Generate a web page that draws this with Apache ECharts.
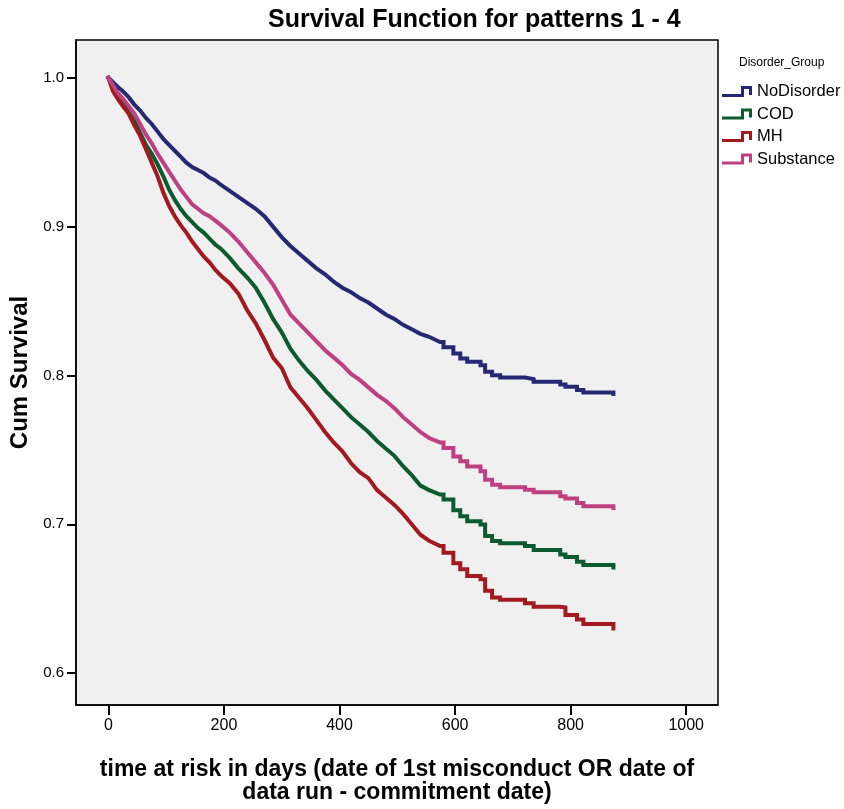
<!DOCTYPE html>
<html>
<head>
    <meta charset="utf-8">
    <title>Survival Function for patterns 1 - 4</title>
    <script src="https://cdn.jsdelivr.net/npm/echarts@6/dist/echarts.min.js"></script>
    <style>
        html, body { margin: 0; padding: 0; background: #ffffff; }
        #chart { width: 844px; height: 809px; }
    </style>
</head>
<body>
<div id="chart"></div>
<script>
    // days at which the curves are read (shared by all groups)
    var days = [0, 8, 16, 25, 35, 45, 55, 65, 75, 85, 95, 105, 115, 125, 135, 145, 155, 165, 175, 185, 195,
        210, 225, 240, 255, 270, 285, 300, 315, 330, 345, 360, 375, 390, 405, 420, 435, 450, 465, 480, 495,
        510, 525, 540, 555, 574, 580, 597, 609, 621, 644, 652, 664, 678, 721, 736, 782, 791, 811, 822, 874];
    // from this day on the curves show clear flat steps
    var stepFrom = 580;

    var noDisorder = [1.000, 0.997, 0.994, 0.991, 0.987, 0.982, 0.978, 0.973, 0.969, 0.964, 0.959,
        0.955, 0.951, 0.947, 0.943, 0.940, 0.938, 0.936, 0.933, 0.931, 0.928,
        0.924, 0.920, 0.916, 0.912, 0.907, 0.900, 0.893, 0.887, 0.882, 0.877, 0.872, 0.868, 0.863, 0.859,
        0.856, 0.852, 0.849, 0.845, 0.841, 0.838, 0.834, 0.831, 0.828, 0.826,
        0.8225, 0.819, 0.8147, 0.8114, 0.8092, 0.8069, 0.8025, 0.8002, 0.7987, 0.7976, 0.7958, 0.7940, 0.7924, 0.7902, 0.7886, 0.7875];

    var cod = [1.000, 0.994, 0.988, 0.983, 0.977, 0.971, 0.963, 0.955, 0.949, 0.942, 0.934,
        0.925, 0.918, 0.912, 0.907, 0.903, 0.899, 0.896, 0.892, 0.888, 0.885,
        0.879, 0.872, 0.866, 0.859, 0.849, 0.838, 0.829, 0.818, 0.810, 0.803, 0.797, 0.790, 0.784, 0.778,
        0.772, 0.767, 0.762, 0.756, 0.751, 0.746, 0.739, 0.733, 0.726, 0.723,
        0.720, 0.7166, 0.7095, 0.7055, 0.7021, 0.6999, 0.6921, 0.6888, 0.6872, 0.6854, 0.6828, 0.6798, 0.6781, 0.6749, 0.6727, 0.6709];

    var mh = [1.000, 0.991, 0.986, 0.981, 0.976, 0.968, 0.961, 0.952, 0.943, 0.934, 0.923,
        0.914, 0.907, 0.901, 0.896, 0.890, 0.885, 0.880, 0.876, 0.871, 0.867,
        0.862, 0.855, 0.844, 0.835, 0.824, 0.812, 0.805, 0.792, 0.785, 0.778, 0.770, 0.762, 0.755, 0.749,
        0.741, 0.735, 0.731, 0.723, 0.718, 0.713, 0.707, 0.700, 0.693, 0.689,
        0.6854, 0.6809, 0.6738, 0.6698, 0.6653, 0.6631, 0.6553, 0.6508, 0.6493, 0.6470, 0.6446, 0.6441, 0.639, 0.636, 0.633, 0.630];

    var substance = [1.000, 0.995, 0.990, 0.986, 0.981, 0.976, 0.969, 0.962, 0.956, 0.949, 0.943,
        0.937, 0.931, 0.925, 0.920, 0.915, 0.912, 0.909, 0.907, 0.904, 0.901,
        0.896, 0.890, 0.883, 0.876, 0.869, 0.861, 0.851, 0.841, 0.835, 0.829, 0.823, 0.817, 0.812, 0.807,
        0.801, 0.797, 0.792, 0.787, 0.783, 0.778, 0.772, 0.767, 0.762, 0.758,
        0.755, 0.7512, 0.7456, 0.7423, 0.7389, 0.7356, 0.7300, 0.7266, 0.7249, 0.7233, 0.7215, 0.7189, 0.7173, 0.7144, 0.7122, 0.7110];

    var groupNames = ['NoDisorder', 'COD', 'MH', 'Substance'];
    var groupColors = ['#272873', '#0c5a2f', '#a2191f', '#bf4080'];
    var xTicks = [0, 200, 400, 600, 800, 1000];
    var yTicks = [0.6, 0.7, 0.8, 0.9, 1.0];

    var font = 'Liberation Sans, Arial, sans-serif';
    // step shaped legend icon
    var stepIcon = 'path://M0,8 L19,8 L19,0 L30,0 L30,9 L27,9 L27,3 L22,3 L22,11 L0,11 Z';

    // dense early part is joined directly, late part is drawn as flat steps
    function pairs(vals) {
        var out = [];
        for (var i = 0; i < days.length; i++) {
            if (days[i] >= stepFrom) {
                out.push([days[i], vals[i - 1]]);
            }
            out.push([days[i], vals[i]]);
        }
        return out;
    }

    var allValues = [noDisorder, cod, mh, substance];
    var series = [];
    for (var k = 0; k < groupNames.length; k++) {
        series.push({
            name: groupNames[k],
            type: 'line',
            showSymbol: false,
            data: pairs(allValues[k]),
            lineStyle: { width: 4, color: groupColors[k], join: 'miter', cap: 'square' },
            itemStyle: { color: groupColors[k] }
        });
    }

    var chart = echarts.init(document.getElementById('chart'));
    var option = {
        animation: false,
        backgroundColor: '#ffffff',
        textStyle: { fontFamily: font },
        title: [{
            text: 'Survival Function for patterns 1 - 4',
            left: 268,
            top: 8,
            padding: 0,
            textStyle: { fontFamily: font, fontSize: 25, fontWeight: 'bold', color: '#000' }
        }, {
            text: 'Disorder_Group',
            left: 739,
            top: 57,
            padding: 0,
            textStyle: { fontFamily: font, fontSize: 12, fontWeight: 'normal', color: '#000' }
        }],
        legend: {
            orient: 'vertical',
            left: 722,
            top: 83,
            padding: 0,
            itemWidth: 30,
            itemHeight: 11,
            itemGap: 5.5,
            icon: stepIcon,
            data: groupNames,
            textStyle: { fontFamily: font, fontSize: 16.5, color: '#000', lineHeight: 16, padding: [0, 0, 0, 0] }
        },
        grid: {
            left: 76,
            top: 40,
            width: 642,
            height: 668,
            show: true,
            backgroundColor: '#f0f0f0',
            borderColor: '#000',
            borderWidth: 1.5
        },
        xAxis: {
            type: 'value',
            min: -56,
            max: 1055,
            name: 'time at risk in days (date of 1st misconduct OR date of\ndata run - commitment date)',
            nameLocation: 'middle',
            nameGap: 53,
            nameTextStyle: { fontFamily: font, fontSize: 23, fontWeight: 'bold', color: '#000', lineHeight: 23 },
            axisLine: { show: true, onZero: false, lineStyle: { color: '#000', width: 1.5 } },
            axisTick: { show: true, length: 10, customValues: xTicks, lineStyle: { color: '#000', width: 2 } },
            axisLabel: {
                customValues: xTicks, color: '#000', fontSize: 16, margin: 13,
                formatter: function (v) { return String(v); }
            },
            splitLine: { show: false }
        },
        yAxis: {
            type: 'value',
            min: 0.5786,
            max: 1.0254,
            name: 'Cum Survival',
            nameLocation: 'middle',
            nameGap: 43,
            nameTextStyle: { fontFamily: font, fontSize: 24, fontWeight: 'bold', color: '#000' },
            axisLine: { show: true, onZero: false, lineStyle: { color: '#000', width: 1.5 } },
            axisTick: { show: true, length: 9, customValues: yTicks, lineStyle: { color: '#000', width: 2 } },
            axisLabel: {
                customValues: yTicks, color: '#000', fontSize: 15, margin: 12,
                formatter: function (v) { return v.toFixed(1); }
            },
            splitLine: { show: false }
        },
        series: series
    };
    chart.setOption(option);
</script>
</body>
</html>
